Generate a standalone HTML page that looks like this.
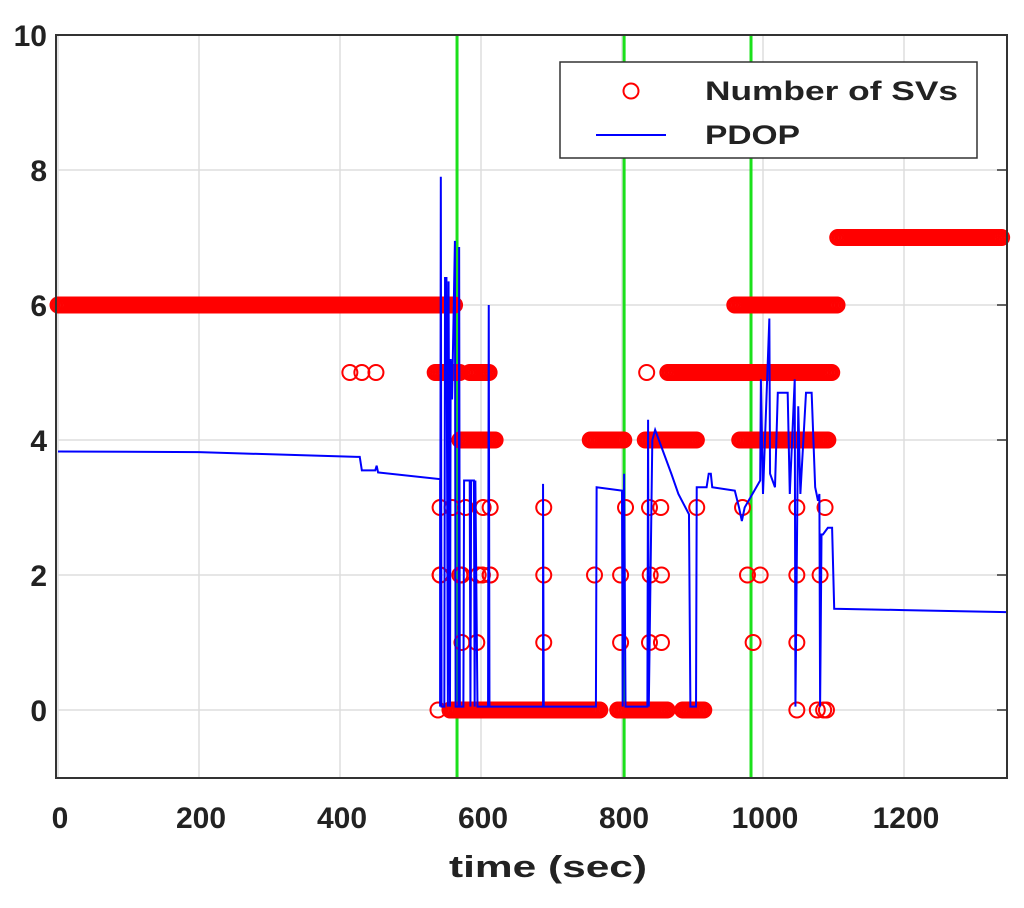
<!DOCTYPE html>
<html><head><meta charset="utf-8"><style>
body{margin:0;background:#fff;}
svg text{font-family:"Liberation Sans","DejaVu Sans",sans-serif;font-weight:bold;fill:#222;}
</style></head><body>
<svg id="chart" width="1024" height="903" viewBox="0 0 1024 903" xmlns="http://www.w3.org/2000/svg">
<g id="grid"></g>
<g id="vlines"></g>
<g id="svs"></g>
<g id="pdop"></g>
<g id="axes"></g>
<text x="548" y="877" font-size="31" text-anchor="middle" textLength="198" lengthAdjust="spacingAndGlyphs">time (sec)</text>
<g>
<rect x="560" y="62" width="417" height="96" fill="#fff" stroke="#333" stroke-width="1.5"/>
<circle cx="631" cy="91" r="7.5" fill="none" stroke="#f00" stroke-width="2"/>
<text x="705" y="100" font-size="27" textLength="253" lengthAdjust="spacingAndGlyphs">Number of SVs</text>
<line x1="596" y1="135" x2="666" y2="135" stroke="#00f" stroke-width="2"/>
<text x="705" y="144" font-size="27" textLength="95" lengthAdjust="spacingAndGlyphs">PDOP</text>
</g>
</svg>
<script>
const xTicks=[0,200,400,600,800,1000,1200];
const yTicks=[0,2,4,6,8,10];
const eventTimes=[566,803,983];
// runs of SV counts: start, end, value
const runStart=[0,1106,556,794,886,755,833,570,865,960,967,535,584];
const runEnd=[563,1340,769,865,918,804,906,620,1098,1106,1092,570,613];
const runValue=[6,7,0,0,0,4,4,4,5,6,4,5,5];
// isolated SV points
const svT=[414,431,451,542,559,578,603,613,542,573,596,613,689,805,839,855,906,971,1048,1088,542,570,602,613,689,761,798,840,856,978,996,1048,1081,573,594,689,798,839,856,986,1048,539,762,1048,835,1090,1077,1086];
const svV=[5,5,5,3,3,3,3,3,2,2,2,2,3,3,3,3,3,3,3,3,2,2,2,2,2,2,2,2,2,2,2,2,2,1,1,1,1,1,1,1,1,0,0,0,5,0,0,0];
// PDOP polyline
const pT=[0,200,424,428,431,450,452,454,542,542,543,544,548,549,551,553,554,556,557,559,563,564,568,569,570,575,576,584,585,586,590,591,592,595,610,611,612,688,688,689,763,764,800,801,803,805,836,837,838,843,847,870,880,895,897,905,906,920,923,926,928,960,966,970,974,996,997,1000,1009,1010,1017,1021,1035,1038,1045,1046,1050,1053,1061,1069,1074,1078,1080,1081,1083,1085,1092,1098,1101,1200,1345];
const pV=[3.83,3.82,3.75,3.75,3.55,3.55,3.62,3.52,3.42,0.05,7.9,0.05,0.05,6.4,6.4,0.05,6.35,0.05,5.2,4.6,6.95,0.05,0.05,6.86,0.05,0.05,3.4,3.4,0.05,3.4,3.4,0.05,3.4,0.05,0.05,6.0,0.05,0.05,3.35,0.05,0.05,3.3,3.25,0.05,3.5,0.05,0.05,4.3,0.05,4.0,4.15,3.5,3.2,2.9,0.05,0.05,3.3,3.3,3.5,3.5,3.3,3.25,3.0,2.8,3.0,3.4,4.9,3.2,5.8,3.5,3.3,4.7,4.7,3.2,4.9,0.05,4.5,3.2,4.7,4.7,3.3,3.1,3.2,0.05,2.6,2.6,2.7,2.7,1.5,1.48,1.45];

const NS='http://www.w3.org/2000/svg';
const L=58,R=1007,T=35,B=778;
const X=t=>L+t*0.705;
const Y=v=>710-v*67.5;
function mk(tag,attrs,parent){const e=document.createElementNS(NS,tag);for(const k in attrs)e.setAttribute(k,attrs[k]);parent.appendChild(e);return e;}
const grid=document.getElementById('grid'),axes=document.getElementById('axes');
mk('rect',{x:L-2,y:T,width:R-L+2,height:B-T,fill:'#fff'},grid);
xTicks.forEach(t=>{
  const g=mk('line',{x1:X(t),y1:T,x2:X(t),y2:B,stroke:'#ddd','stroke-width':1.5},grid);
  
  
  const lb=mk('text',{x:X(t)+2,y:828,'font-size':30,'text-anchor':'middle'},axes);lb.textContent=t;
  
  
});
[-1,...yTicks].forEach(v=>{
  if(v>-1){const g=mk('line',{x1:L,y1:Y(v),x2:R,y2:Y(v),stroke:'#ddd','stroke-width':1.5},grid);
  
  }
  if(yTicks.includes(v)){const lb=mk('text',{x:47,y:Y(v)+11,'font-size':30,'text-anchor':'end'},axes);lb.textContent=v;
  
  
  mk('line',{x1:R-10,y1:Y(v),x2:R,y2:Y(v),stroke:'#333','stroke-width':1.5},axes);}
});
const vl=document.getElementById('vlines');
eventTimes.forEach(t=>{const l=mk('line',{x1:X(t),y1:T,x2:X(t),y2:B,stroke:'#1be01b','stroke-width':3},vl);
  
  });
const sv=document.getElementById('svs');
function circ(t,v){const c=mk('circle',{cx:X(t),cy:Y(v),r:7.5,fill:'none',stroke:'#f00','stroke-width':2},sv);
  
  }
runStart.forEach((s,i)=>{for(let t=s;t<=runEnd[i];t+=2.5)circ(t,runValue[i]);});
svT.forEach((t,i)=>circ(t,svV[i]));
const pd=document.getElementById('pdop');
const pl=mk('polyline',{points:pT.map((t,i)=>X(t)+','+Y(pV[i])).join(' '),fill:'none',stroke:'#00f','stroke-width':2},pd);


mk('rect',{x:L-2,y:T,width:R-L+2,height:B-T,fill:'none',stroke:'#333','stroke-width':2},axes);
</script>
</body></html>
